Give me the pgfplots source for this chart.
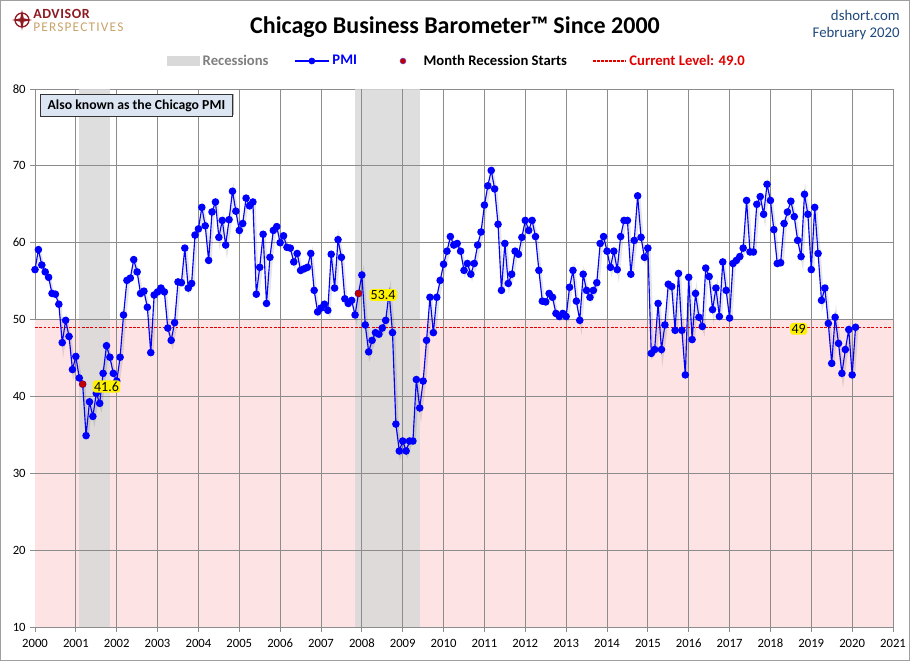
\documentclass[border=0pt]{standalone}
\usepackage{fontspec}
\setmainfont{Carlito}
\usepackage{pgfplots}
\pgfplotsset{compat=1.18}
\usepackage{pgfplotstable}
\definecolor{recgray}{HTML}{D9D9D9}
\definecolor{pinkzone}{HTML}{FDE3E3}
\definecolor{gridgray}{HTML}{8C8C8C}
\definecolor{pmiblue}{HTML}{0000FF}
\definecolor{darkred}{HTML}{C00000}
\definecolor{lvlred}{HTML}{E00000}
\definecolor{legred}{HTML}{E00000}
\definecolor{logored}{HTML}{8E1B22}
\definecolor{logogold}{HTML}{C8A46A}
\definecolor{navy}{HTML}{1F497D}
\definecolor{boxblue}{HTML}{DCE6F2}
\definecolor{leggray}{HTML}{7F7F7F}

% Chicago PMI, monthly, Jan 2000 - Feb 2020
\pgfplotstableread{
pmi
56.5
59.1
57.1
56.2
55.5
53.4
53.3
52.0
47.0
49.9
47.8
43.5
45.2
42.4
41.6
34.9
39.3
37.4
40.4
39.1
43.0
46.6
45.1
43.0
42.0
45.1
50.6
55.1
55.4
57.8
56.2
53.4
53.7
51.6
45.7
53.2
53.6
54.1
53.6
48.9
47.3
49.6
54.9
54.8
59.3
54.1
54.7
61.0
61.8
64.6
62.2
57.7
64.0
65.3
60.7
62.9
59.7
63.0
66.7
64.1
61.6
62.5
65.8
64.8
65.3
53.3
56.8
61.1
52.1
58.1
61.6
62.1
60.0
60.9
59.4
59.3
57.5
58.6
56.4
56.6
56.8
58.6
53.8
51.0
51.5
52.0
51.2
58.5
54.1
60.4
58.1
52.7
52.1
52.5
50.6
53.4
55.8
49.3
45.8
47.3
48.3
48.1
48.9
49.9
53.5
48.3
36.4
32.9
34.2
32.9
34.2
34.2
42.2
38.5
42.0
47.3
52.9
48.3
52.9
55.1
57.2
58.9
60.8
59.7
59.9
58.9
56.4
57.3
55.9
57.3
59.7
61.4
64.9
67.4
69.4
67.0
62.4
53.8
59.9
54.7
55.9
58.9
58.5
60.7
62.9
61.6
62.9
60.8
56.4
52.4
52.3
53.4
52.9
50.8
50.4
50.8
50.4
54.2
56.4
52.4
49.9
55.9
53.8
52.9
53.8
54.8
59.9
60.8
58.9
56.8
58.9
56.5
60.8
62.9
62.9
55.9
60.3
66.1
60.7
58.1
59.3
45.6
46.1
52.1
46.1
49.3
54.6
54.3
48.6
56.0
48.6
42.8
55.5
47.4
53.4
50.3
49.1
56.7
55.6
51.3
54.1
50.4
57.5
53.8
50.2
57.3
57.7
58.2
59.3
65.5
58.8
58.8
65.0
66.0
63.7
67.6
65.5
61.7
57.3
57.4
62.5
64.0
65.4
63.4
60.3
58.2
66.3
63.7
56.5
64.6
58.6
52.5
54.1
49.5
44.3
50.3
46.9
43.0
46.1
48.7
42.8
49.0
}\pmidata

\begin{document}
\begin{tikzpicture}
\useasboundingbox (0,0) rectangle (682.5pt,495.75pt);
\fill[white] (0,0) rectangle (682.5pt,495.75pt);
\draw[gray!75, line width=0.75pt] (0.375pt,0.375pt) rectangle (682.125pt,495.375pt);

\begin{axis}[
  at={(26.25pt,25.5pt)}, anchor=south west,
  scale only axis, width=643.5pt, height=403.5pt,
  xmin=2000, xmax=2021, ymin=10, ymax=80,
  xtick={2000,2001,...,2021}, ytick={10,20,...,80},
  axis line style={gridgray, line width=0.75pt},
  tick style={gridgray, line width=0.75pt},
  tick align=outside, major tick length=3.5pt,
  xtick pos=lower, ytick pos=left,
  /pgf/number format/assume math mode=true,
  /pgf/number format/set thousands separator={},
  ticklabel style={font=\fontsize{9.5}{11}\selectfont, text=black},
  xticklabel style={yshift=-2pt},
  legend style={at={(rel axis cs:0.492,1)}, anchor=center, yshift=21pt,
    draw=none, fill=none, legend columns=4,
    font=\bfseries\fontsize{11}{13}\selectfont,
    nodes={inner sep=2pt},
    /tikz/every even column/.append style={column sep=17pt}},
]
\addlegendimage{legend image code/.code={\fill[recgray, draw=none] (0pt,-3.75pt) rectangle (25pt,3.75pt);}}
\addlegendentry{\textcolor{leggray}{Recessions}}
\addlegendimage{legend image code/.code={\draw[pmiblue, line width=0.9pt] (0pt,0pt) -- (26pt,0pt); \fill[pmiblue] (13pt,0pt) circle (2.3pt);}}
\addlegendentry{\textcolor{pmiblue}{PMI}}
\addlegendimage{legend image code/.code={\path[draw=none, fill=none] (0pt,-1pt) rectangle (29pt,1pt); \fill[darkred, draw=none] (15.5pt,0pt) circle (2.3pt); \draw[pmiblue!60, line width=0.3pt, fill=none] (15.5pt,0pt) circle (2.3pt);}}
\addlegendentry{Month Recession Starts}
\addlegendimage{legend image code/.code={\draw[legred, line width=0.9pt, dash pattern=on 2.1pt off 0.9pt] (0pt,0pt) -- (25pt,0pt);}}
\addlegendentry{\textcolor{legred}{Current Level: 49.0}}

% below-50 zone
\addplot[fill=pinkzone, draw=none, forget plot]
  coordinates {(2000,10) (2000,50) (2021,50) (2021,10)} -- cycle;
% recessions
\addplot[fill=recgray, fill opacity=0.85, draw=none, forget plot]
  coordinates {(2001.0833,10) (2001.0833,80) (2001.8333,80) (2001.8333,10)} -- cycle;
\addplot[fill=recgray, fill opacity=0.85, draw=none, forget plot]
  coordinates {(2007.8333,10) (2007.8333,80) (2009.4167,80) (2009.4167,10)} -- cycle;

% grid
\pgfplotsinvokeforeach{2001,2002,...,2020}{
  \addplot[gridgray, line width=0.75pt, forget plot] coordinates {(#1,10) (#1,80)};
}
\pgfplotsinvokeforeach{20,30,...,70}{
  \addplot[gridgray, line width=0.75pt, forget plot] coordinates {(2000,#1) (2021,#1)};
}

% current level
\addplot[lvlred, line width=0.9pt, dash pattern=on 2pt off 1.2pt, forget plot]
  coordinates {(2000,49) (2021,49)};

% soft shadow of PMI line
\addplot[black, opacity=0.10, line width=2.4pt, forget plot, mark=none,
  y filter/.expression={y-0.3}]
  table[x expr=2000.03+\coordindex/12, y=pmi] {\pmidata};
% PMI
\addplot[pmiblue, line width=0.85pt, mark=*, mark size=2.4pt,
  mark options={fill=pmiblue, draw=pmiblue}, forget plot]
  table[x expr=2000+\coordindex/12, y=pmi] {\pmidata};
% recession start months
\addplot[only marks, mark=*, mark size=2.4pt, mark options={fill=darkred, draw=darkred}, forget plot]
  coordinates {(2001.1667,41.6) (2007.9167,53.4)};

\coordinate (lab1) at (axis cs:2001.75,41.3);
\coordinate (lab2) at (axis cs:2008.52,53.2);
\coordinate (lab3) at (axis cs:2018.69,48.8);
\end{axis}

% value labels (on top of the markers)
\node[fill=yellow, rounded corners=2pt, inner sep=1pt, font=\fontsize{10.5}{12}\selectfont] at (lab1) {41.6};
\node[fill=yellow, rounded corners=2pt, inner sep=1pt, font=\fontsize{10.5}{12}\selectfont] at (lab2) {53.4};
\node[fill=yellow, rounded corners=2pt, inner sep=1pt, font=\fontsize{10.5}{12}\selectfont] at (lab3) {49};

% annotation box
\fill[black, opacity=0.3] (31.5pt,409.5pt) rectangle (175.5pt,425.5pt);
\node[anchor=north west, fill=boxblue, draw=black!80, line width=0.6pt,
  minimum width=144pt, minimum height=16.5pt, inner sep=1.5pt,
  font=\bfseries\fontsize{10.3}{12}\selectfont] at (30pt,425.25pt) {Also known as the Chicago PMI};

% title and header
\node[font=\bfseries\fontsize{18}{21}\selectfont] at (341.25pt,475.5pt) {Chicago Business Barometer™ Since 2000};
\node[anchor=east, inner sep=0pt, text=navy, font=\fontsize{11.1}{13}\selectfont] at (675pt,484.5pt) {dshort.com};
\node[anchor=east, inner sep=0pt, text=navy, font=\fontsize{11.1}{13}\selectfont] at (675pt,470.5pt) {February 2020};

% logo
\draw[logored, line width=1pt] (16.5pt,480.75pt) circle (5.2pt);
\fill[logored] (16.5pt,488.5pt) -- (17.8pt,482pt) -- (24.2pt,480.75pt) -- (17.8pt,479.5pt) -- (16.5pt,473pt) -- (15.2pt,479.5pt) -- (8.8pt,480.75pt) -- (15.2pt,482pt) -- cycle;
\node[anchor=west, inner sep=0pt, text=logored, font=\bfseries\fontsize{10.5}{11}\selectfont\addfontfeatures{LetterSpace=4}] at (24.75pt,485.2pt) {ADVISOR};
\node[anchor=west, inner sep=0pt, text=logogold, font=\fontsize{10}{11}\selectfont\addfontfeatures{LetterSpace=9}] at (24.75pt,475.3pt) {PERSPECTIVES};
\end{tikzpicture}
\end{document}
